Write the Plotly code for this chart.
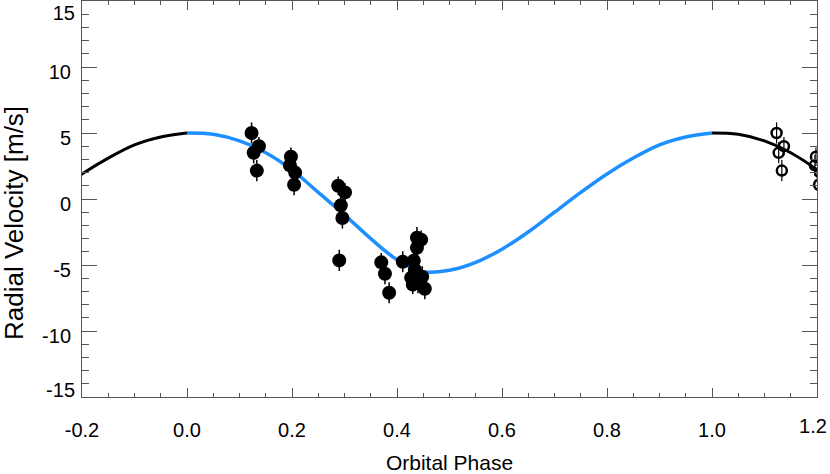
import plotly.graph_objects as go

# model RV curve over one orbit
model_phase = [0.00, 0.05, 0.10, 0.15, 0.20, 0.25, 0.30, 0.35, 0.40, 0.45, 0.50,
               0.55, 0.60, 0.65, 0.70, 0.75, 0.80, 0.85, 0.90, 0.95, 1.00]
model_rv = [5.0, 4.9, 4.4, 3.5, 2.2, 0.5, -1.2, -3.0, -4.6, -5.5, -5.4,
            -4.8, -3.8, -2.5, -1.0, 0.5, 1.9, 3.1, 4.1, 4.7, 5.0]

# measured radial velocities
obs_phase = [0.123, 0.137, 0.127, 0.133,
             0.198, 0.196, 0.206, 0.204,
             0.288, 0.301, 0.293, 0.296, 0.290,
             0.370, 0.377, 0.385,
             0.411, 0.432, 0.438, 0.446, 0.438, 0.427, 0.434, 0.448, 0.453, 0.440, 0.430]
obs_rv = [5.0, 4.0, 3.5, 2.15,
          3.2, 2.55, 2.0, 1.08,
          1.0, 0.5, -0.48, -1.44, -4.65,
          -4.8, -5.66, -7.1,
          -4.75, -4.67, -2.93, -3.08, -3.69, -5.96, -5.36, -5.89, -6.8, -6.34, -6.49]
obs_err = [0.8, 0.7, 0.8, 0.8,
           0.7, 0.8, 0.7, 0.8,
           0.7, 0.7, 0.8, 0.8, 0.8,
           0.7, 0.8, 0.8,
           0.8, 0.7, 0.8, 0.7, 0.8, 0.8, 0.7, 0.8, 0.8, 0.8, 0.7]

x_ticks = [-0.2, 0.0, 0.2, 0.4, 0.6, 0.8, 1.0]
x_labels = ["-0.2", "0.0", "0.2", "0.4", "0.6", "0.8", "1.0"]
y_ticks = [-10, -5, 0, 5, 10]
y_labels = ["-10", "-5", "0", "5", "10"]

BLUE = "#1e8fff"
AXC = "#555555"
FONT = "Liberation Sans, Arial, Helvetica, sans-serif"

fig = go.Figure()

# black wrap-around parts of the curve
wrap_x = [p - 1 for p in model_phase] + [None] + [p + 1 for p in model_phase]
wrap_y = model_rv + [None] + model_rv
fig.add_trace(go.Scatter(x=wrap_x, y=wrap_y, mode="lines",
                         line=dict(color="black", width=3, shape="spline"),
                         connectgaps=False, showlegend=False, hoverinfo="skip"))
fig.add_trace(go.Scatter(x=model_phase, y=model_rv, mode="lines",
                         line=dict(color=BLUE, width=3.5, shape="spline"),
                         showlegend=False, hoverinfo="skip"))

# observations repeated one orbit later
fig.add_trace(go.Scatter(
    x=[p + 1 for p in obs_phase], y=obs_rv, mode="markers",
    marker=dict(symbol="circle-open", size=10, color="black", line=dict(width=2.5, color="black")),
    error_y=dict(type="data", array=obs_err, color="black", thickness=1.2, width=0),
    showlegend=False))

fig.add_trace(go.Scatter(
    x=obs_phase, y=obs_rv, mode="markers",
    marker=dict(size=14, color="black"),
    error_y=dict(type="data", array=obs_err, color="black", thickness=1.5, width=0),
    showlegend=False))

# empty traces so the helper axes (end labels) get drawn
fig.add_trace(go.Scatter(x=[None], y=[None], xaxis="x2", yaxis="y2",
                         showlegend=False, hoverinfo="skip"))
fig.add_trace(go.Scatter(x=[None], y=[None], xaxis="x", yaxis="y3",
                         showlegend=False, hoverinfo="skip"))

xax_common = dict(range=[-0.2, 1.2], showgrid=False, zeroline=False, automargin=False,
                  tickfont=dict(size=20), ticklabelstandoff=15)
yax_common = dict(range=[-15, 15], showgrid=False, zeroline=False, automargin=False,
                  tickfont=dict(size=20), ticklabelstandoff=6)

fig.update_layout(
    xaxis=dict(
        tickmode="array", tickvals=x_ticks, ticktext=x_labels,
        ticks="inside", ticklen=9, tickcolor=AXC, tickwidth=1,
        minor=dict(dtick=0.05, tick0=0, ticks="inside", ticklen=4, tickcolor=AXC),
        showline=True, linecolor=AXC, linewidth=1, mirror="ticks",
        title=dict(text="Orbital Phase", standoff=17, font=dict(size=21)),
        **xax_common),
    xaxis2=dict(overlaying="x", side="bottom", anchor="y", tickmode="array",
                tickvals=[1.2], ticktext=["1.2"], ticks="", showline=False,
                ticklabelshift=-4, **xax_common),
    yaxis=dict(
        tickmode="array", tickvals=y_ticks, ticktext=y_labels,
        ticks="inside", ticklen=15, tickcolor=AXC, tickwidth=1,
        minor=dict(dtick=1, tick0=0, ticks="inside", ticklen=7, tickcolor=AXC),
        showline=True, linecolor=AXC, linewidth=1, mirror="ticks",
        ticklabelshift=5, **yax_common),
    # end labels sit just inside the frame, as in the original
    yaxis2=dict(overlaying="y", side="left", anchor="x", tickmode="array",
                tickvals=[15], ticktext=["15"], ticks="", showline=False,
                ticklabelshift=12, **yax_common),
    yaxis3=dict(overlaying="y", side="left", anchor="x", tickmode="array",
                tickvals=[-15], ticktext=["-15"], ticks="", showline=False,
                ticklabelshift=-7, **yax_common),
)

fig.add_annotation(
    text="Radial Velocity [m/s]", textangle=-90, showarrow=False,
    xref="paper", yref="paper", x=(14 - 82) / 735, y=(397 - 223) / 396,
    xanchor="center", yanchor="middle", font=dict(size=26),
)

fig.update_layout(
    width=830, height=474,
    margin=dict(l=82, r=13, t=1, b=77),
    paper_bgcolor="white", plot_bgcolor="white",
    font=dict(family=FONT, size=20, color="black"),
    showlegend=False,
)

fig.write_html("out.html", config={"displayModeBar": False},
               post_script="document.body.style.margin='0';")
